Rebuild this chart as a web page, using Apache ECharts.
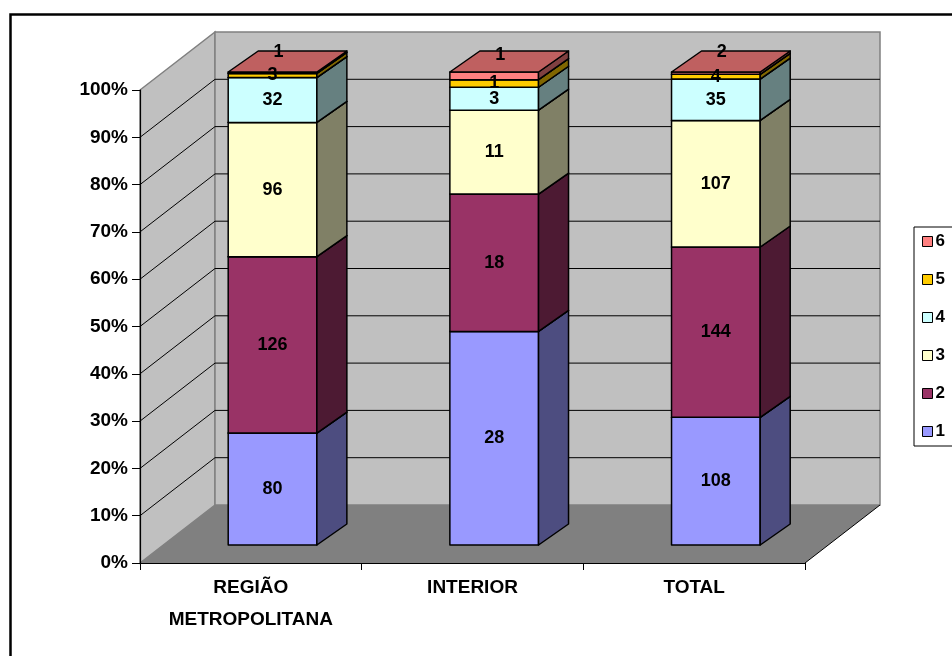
<!DOCTYPE html>
<html>
<head>
<meta charset="utf-8">
<script src="https://cdn.jsdelivr.net/npm/echarts@6/dist/echarts.min.js"></script>
<style>
  html, body { margin: 0; padding: 0; background: #fff; }
  #chart { width: 952px; height: 656px; }
</style>
</head>
<body>
<div id="chart"></div>
<script>
var categories = ['REGIÃO\nMETROPOLITANA', 'INTERIOR', 'TOTAL'];
var seriesNames = ['1', '2', '3', '4', '5', '6'];
var s1 = [80, 28, 108];
var s2 = [126, 18, 144];
var s3 = [96, 11, 107];
var s4 = [32, 3, 35];
var s5 = [3, 1, 4];
var s6 = [1, 1, 2];
var yTicks = [0, 10, 20, 30, 40, 50, 60, 70, 80, 90, 100];

var frontColors = ['#9999ff', '#993366', '#ffffcc', '#ccffff', '#ffcc00', '#ff8080'];
var sideColors  = ['#4d4d80', '#4d1a33', '#808066', '#668080', '#806600', '#804040'];
var topColors   = ['#7373bf', '#73264d', '#bfbf99', '#99bfbf', '#bf9900', '#bf6060'];

var FONT = '"Liberation Sans", Arial, sans-serif';
// depth offsets (pixels)
var WALL_DX = 75, WALL_DY = -58;   // back wall
var BAR_FX = 21.7, BAR_FY = -18;   // bar front face
var BAR_DX = 30, BAR_DY = -21;     // bar depth

var allSeries = [s1, s2, s3, s4, s5, s6];
var totals = categories.map(function (c, j) {
    return allSeries.reduce(function (a, s) { return a + s[j]; }, 0);
});

var myChart = echarts.init(document.getElementById('chart'));

// walls + floor + gridlines
function renderWalls(params, api) {
    var cs = params.coordSys;
    var L = cs.x, R = cs.x + cs.width;
    var y0 = api.coord([0, 0])[1], y100 = api.coord([0, 100])[1];
    var kids = [];
    kids.push({ type: 'polygon', shape: { points: [[L, y100], [L + WALL_DX, y100 + WALL_DY], [L + WALL_DX, y0 + WALL_DY], [L, y0]] },
        style: { fill: '#c0c0c0', stroke: '#808080', lineWidth: 1.5 } });
    kids.push({ type: 'rect', shape: { x: L + WALL_DX, y: y100 + WALL_DY, width: R - L, height: y0 - y100 },
        style: { fill: '#c0c0c0', stroke: '#808080', lineWidth: 1.5 } });
    kids.push({ type: 'polygon', shape: { points: [[L, y0], [R, y0], [R + WALL_DX, y0 + WALL_DY], [L + WALL_DX, y0 + WALL_DY]] },
        style: { fill: '#808080', stroke: null } });
    kids.push({ type: 'line', shape: { x1: R, y1: y0, x2: R + WALL_DX, y2: y0 + WALL_DY },
        style: { stroke: '#000', lineWidth: 1 } });
    yTicks.forEach(function (v) {
        if (v === 0 || v === 100) return;
        var y = api.coord([0, v])[1];
        kids.push({ type: 'line', shape: { x1: L, y1: y, x2: L + WALL_DX, y2: y + WALL_DY }, style: { stroke: '#000', lineWidth: 1 } });
        kids.push({ type: 'line', shape: { x1: L + WALL_DX, y1: y + WALL_DY, x2: R + WALL_DX, y2: y + WALL_DY }, style: { stroke: '#000', lineWidth: 1 } });
    });
    return { type: 'group', children: kids };
}

function makeRender(idx) {
    return function (params, api) {
        var cat = api.value(0), lo = api.value(1), hi = api.value(2);
        var pLo = api.coord([cat, lo]), pHi = api.coord([cat, hi]);
        var bw = api.size([1, 0])[0] * 0.4;
        var x0 = pLo[0] + BAR_FX - bw / 2, x1 = x0 + bw;
        var yb = pLo[1] + BAR_FY, yt = pHi[1] + BAR_FY;
        var edge = { stroke: '#000', lineWidth: 1.5, lineJoin: 'round' };
        var ly = (yb + yt) / 2 + (idx === 5 ? -21 : 0);
        var lx = (x0 + x1) / 2 + (idx === 5 ? 6 : 0);
        return {
            type: 'group',
            children: [
                { type: 'polygon', shape: { points: [[x0, yb], [x1, yb], [x1, yt], [x0, yt]] },
                  style: echarts.util.extend({ fill: frontColors[idx] }, edge) },
                { type: 'polygon', shape: { points: [[x1, yb], [x1 + BAR_DX, yb + BAR_DY], [x1 + BAR_DX, yt + BAR_DY], [x1, yt]] },
                  style: echarts.util.extend({ fill: sideColors[idx] }, edge) },
                { type: 'polygon', shape: { points: [[x0, yt], [x1, yt], [x1 + BAR_DX, yt + BAR_DY], [x0 + BAR_DX, yt + BAR_DY]] },
                  style: echarts.util.extend({ fill: topColors[idx] }, edge) },
                { type: 'text', z2: 100, style: { text: String(api.value(3)), x: lx, y: ly, align: 'center', verticalAlign: 'middle',
                  font: 'bold 18px ' + FONT, fill: '#000' } }
            ]
        };
    };
}

var series = [{
    type: 'custom', name: 'walls', z: 1, silent: true,
    renderItem: renderWalls, data: [[0, 0]], encode: { x: 0, y: 1 }
}];

var cum = categories.map(function () { return 0; });
allSeries.forEach(function (s, i) {
    var data = s.map(function (v, j) {
        var lo = cum[j];
        var hi = lo + v / totals[j] * 100;
        cum[j] = hi;
        return [j, lo, hi, v];
    });
    series.push({
        type: 'custom', name: seriesNames[i], z: 2,
        itemStyle: { color: frontColors[i] },
        renderItem: makeRender(i), data: data, encode: { x: 0, y: 2 }
    });
});

var option = {
    backgroundColor: '#fff',
    animation: false,
    graphic: [{
        type: 'rect', left: 8, top: 12, silent: true,
        shape: { width: 1000, height: 700 },
        style: { fill: null, stroke: '#000', lineWidth: 2.5 }
    }],
    legend: {
        orient: 'vertical', left: 914, top: 227,
        data: ['6', '5', '4', '3', '2', '1'],
        icon: 'rect', itemWidth: 10, itemHeight: 10, itemGap: 21,
        padding: [6, 30, 6, 8],
        borderColor: '#000', borderWidth: 1, borderRadius: 0,
        itemStyle: { borderColor: '#000', borderWidth: 1 },
        textStyle: { fontFamily: FONT, fontWeight: 'bold', fontSize: 17, color: '#000', padding: [0, 0, 0, -2] }
    },
    grid: { left: 140, right: 147, top: 90, bottom: 93, containLabel: false },
    xAxis: {
        type: 'category', data: categories, z: 10,
        axisLine: { lineStyle: { color: '#000', width: 1.2 } },
        axisTick: { show: true, length: 7, lineStyle: { color: '#000' } },
        axisLabel: { margin: 9, color: '#000', fontFamily: FONT, fontWeight: 'bold', fontSize: 19, lineHeight: 32 },
        splitLine: { show: false }
    },
    yAxis: {
        type: 'value', min: 0, max: 100, interval: 10, z: 10,
        axisLine: { show: true, lineStyle: { color: '#000', width: 1.2 } },
        axisTick: { show: true, length: 8, lineStyle: { color: '#000' } },
        axisLabel: { margin: 12, formatter: '{value}%', color: '#000', fontFamily: FONT, fontWeight: 'bold', fontSize: 19 },
        splitLine: { show: false }
    },
    series: series
};

myChart.setOption(option);
</script>
</body>
</html>
